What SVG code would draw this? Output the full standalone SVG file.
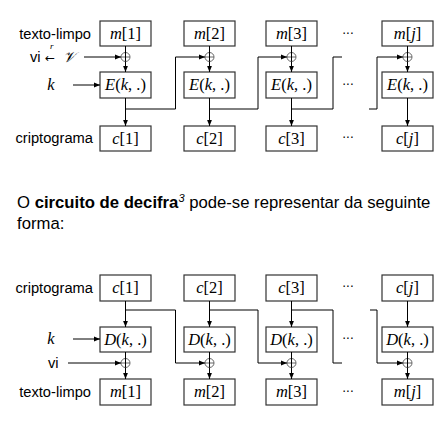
<svg xmlns="http://www.w3.org/2000/svg" width="441" height="422" viewBox="0 0 441 422">
<defs>
<marker id="ah" viewBox="0 0 6 6" refX="6" refY="3" markerWidth="6" markerHeight="6" markerUnits="userSpaceOnUse" orient="auto">
<path d="M0,0.6 L6,3 L0,5.4 Z" fill="#000"/>
</marker>
<style>
.box{fill:#fff;stroke:#333;stroke-width:1.2}
.ln{fill:none;stroke:#000;stroke-width:1}
.ar{fill:none;stroke:#000;stroke-width:1;marker-end:url(#ah)}
.xor{fill:none;stroke:#666;stroke-width:1}
.lab{font-family:"Liberation Sans",Arial,sans-serif;font-size:14.7px;fill:#000}
.mt{font-family:"Liberation Serif","Times New Roman",serif;font-size:16.5px;fill:#000;text-anchor:middle}
.it{font-style:italic}
.dots{font-family:"DejaVu Sans",sans-serif;font-size:12px;fill:#000;text-anchor:middle}
.par{font-family:"Liberation Sans",Arial,sans-serif;font-size:16.7px;fill:#000}
</style>
</defs>

<!-- ===== Top diagram: encryption ===== -->
<g id="labels-top">
<text class="lab" x="91" y="39" text-anchor="end">texto-limpo</text>
<text class="lab" x="30" y="62">vi</text>
<text x="45" y="62" font-family="DejaVu Sans,sans-serif" font-size="12px">←</text>
<text x="50" y="49" font-family="Liberation Serif,serif" font-style="italic" font-size="9px">r</text>
<text x="63" y="62" font-family="DejaVu Serif,serif" font-style="italic" font-size="15px">𝒱</text>
<text x="51" y="90" font-family="Liberation Serif,serif" font-style="italic" font-size="16.5px" text-anchor="middle">k</text>
<text class="lab" x="93" y="143" text-anchor="end">criptograma</text>
</g>

<g id="m1"><rect class="box" x="100" y="21" width="51" height="25"/><text class="mt" x="125.5" y="39"><tspan class="it">m</tspan>[1]</text></g>
<g id="m2"><rect class="box" x="184" y="21" width="51" height="25"/><text class="mt" x="209.5" y="39"><tspan class="it">m</tspan>[2]</text></g>
<g id="m3"><rect class="box" x="266" y="21" width="51" height="25"/><text class="mt" x="291.5" y="39"><tspan class="it">m</tspan>[3]</text></g>
<g id="mj"><rect class="box" x="382" y="21" width="51" height="25"/><text class="mt" x="407.5" y="39"><tspan class="it">m</tspan>[<tspan class="it">j</tspan>]</text></g>

<g id="E1"><rect class="box" x="100" y="72" width="51" height="26"/><text class="mt" x="125.5" y="90"><tspan class="it">E</tspan>(<tspan class="it">k</tspan>, .)</text></g>
<g id="E2"><rect class="box" x="184" y="72" width="51" height="26"/><text class="mt" x="209.5" y="90"><tspan class="it">E</tspan>(<tspan class="it">k</tspan>, .)</text></g>
<g id="E3"><rect class="box" x="266" y="72" width="51" height="26"/><text class="mt" x="291.5" y="90"><tspan class="it">E</tspan>(<tspan class="it">k</tspan>, .)</text></g>
<g id="Ej"><rect class="box" x="382" y="72" width="51" height="26"/><text class="mt" x="407.5" y="90"><tspan class="it">E</tspan>(<tspan class="it">k</tspan>, .)</text></g>

<g id="c1"><rect class="box" x="100" y="126" width="51" height="25"/><text class="mt" x="125.5" y="144"><tspan class="it">c</tspan>[1]</text></g>
<g id="c2"><rect class="box" x="184" y="126" width="51" height="25"/><text class="mt" x="209.5" y="144"><tspan class="it">c</tspan>[2]</text></g>
<g id="c3"><rect class="box" x="266" y="126" width="51" height="25"/><text class="mt" x="291.5" y="144"><tspan class="it">c</tspan>[3]</text></g>
<g id="cj"><rect class="box" x="382" y="126" width="51" height="25"/><text class="mt" x="407.5" y="144"><tspan class="it">c</tspan>[<tspan class="it">j</tspan>]</text></g>

<g id="dots-top">
<text class="dots" x="348" y="38">···</text>
<text class="dots" x="348" y="89">···</text>
<text class="dots" x="348" y="142">···</text>
</g>

<g id="xor-top">
<circle class="xor" cx="125.5" cy="57" r="4.5"/><path class="xor" d="M121,57H130"/>
<circle class="xor" cx="209.5" cy="57" r="4.5"/><path class="xor" d="M205,57H214"/>
<circle class="xor" cx="291.5" cy="57" r="4.5"/><path class="xor" d="M287,57H296"/>
<circle class="xor" cx="407.5" cy="57" r="4.5"/><path class="xor" d="M403,57H412"/>
</g>

<g id="connectors-top">
<path class="ln" d="M125.5,46V61.5"/><path class="ar" d="M125.5,61.5V72"/>
<path class="ln" d="M209.5,46V61.5"/><path class="ar" d="M209.5,61.5V72"/>
<path class="ln" d="M291.5,46V61.5"/><path class="ar" d="M291.5,61.5V72"/>
<path class="ln" d="M407.5,46V61.5"/><path class="ar" d="M407.5,61.5V72"/>
<path class="ar" d="M125.5,98V126"/>
<path class="ar" d="M209.5,98V126"/>
<path class="ar" d="M291.5,98V126"/>
<path class="ar" d="M407.5,98V126"/>
<path class="ar" d="M84,57H121"/>
<path class="ar" d="M73,85H100"/>
<path class="ar" d="M125.5,109H175.5V57H205"/>
<path class="ar" d="M209.5,109H258V57H287"/>
<path class="ln" d="M291.5,109H333V57H342"/>
<path class="ar" d="M369,109H377V57H403"/>
</g>

<!-- ===== Paragraph ===== -->
<text class="par" x="17" y="208">O <tspan font-weight="bold">circuito de decifra</tspan><tspan font-style="italic" font-size="11px" dy="-6">3</tspan><tspan dy="6"> pode-se representar da seguinte</tspan></text>
<text class="par" x="17" y="229">forma:</text>

<!-- ===== Bottom diagram: decryption ===== -->
<g id="labels-bottom">
<text class="lab" x="93" y="293" text-anchor="end">criptograma</text>
<text x="51" y="344" font-family="Liberation Serif,serif" font-style="italic" font-size="16.5px" text-anchor="middle">k</text>
<text class="lab" x="48" y="368">vi</text>
<text class="lab" x="91" y="397" text-anchor="end">texto-limpo</text>
</g>

<g id="bc1"><rect class="box" x="100" y="275" width="51" height="26"/><text class="mt" x="125.5" y="293"><tspan class="it">c</tspan>[1]</text></g>
<g id="bc2"><rect class="box" x="184" y="275" width="51" height="26"/><text class="mt" x="209.5" y="293"><tspan class="it">c</tspan>[2]</text></g>
<g id="bc3"><rect class="box" x="266" y="275" width="51" height="26"/><text class="mt" x="291.5" y="293"><tspan class="it">c</tspan>[3]</text></g>
<g id="bcj"><rect class="box" x="382" y="275" width="51" height="26"/><text class="mt" x="407.5" y="293"><tspan class="it">c</tspan>[<tspan class="it">j</tspan>]</text></g>

<g id="D1"><rect class="box" x="100" y="327" width="51" height="25"/><text class="mt" x="125.5" y="345"><tspan class="it">D</tspan>(<tspan class="it">k</tspan>, .)</text></g>
<g id="D2"><rect class="box" x="184" y="327" width="51" height="25"/><text class="mt" x="209.5" y="345"><tspan class="it">D</tspan>(<tspan class="it">k</tspan>, .)</text></g>
<g id="D3"><rect class="box" x="266" y="327" width="51" height="25"/><text class="mt" x="291.5" y="345"><tspan class="it">D</tspan>(<tspan class="it">k</tspan>, .)</text></g>
<g id="Dj"><rect class="box" x="382" y="327" width="51" height="25"/><text class="mt" x="407.5" y="345"><tspan class="it">D</tspan>(<tspan class="it">k</tspan>, .)</text></g>

<g id="bm1"><rect class="box" x="100" y="379" width="51" height="26"/><text class="mt" x="125.5" y="397"><tspan class="it">m</tspan>[1]</text></g>
<g id="bm2"><rect class="box" x="184" y="379" width="51" height="26"/><text class="mt" x="209.5" y="397"><tspan class="it">m</tspan>[2]</text></g>
<g id="bm3"><rect class="box" x="266" y="379" width="51" height="26"/><text class="mt" x="291.5" y="397"><tspan class="it">m</tspan>[3]</text></g>
<g id="bmj"><rect class="box" x="382" y="379" width="51" height="26"/><text class="mt" x="407.5" y="397"><tspan class="it">m</tspan>[<tspan class="it">j</tspan>]</text></g>

<g id="dots-bottom">
<text class="dots" x="348" y="291">···</text>
<text class="dots" x="348" y="343">···</text>
<text class="dots" x="348" y="396">···</text>
</g>

<g id="xor-bottom">
<circle class="xor" cx="125.5" cy="363" r="4.5"/><path class="xor" d="M121,363H130"/>
<circle class="xor" cx="209.5" cy="363" r="4.5"/><path class="xor" d="M205,363H214"/>
<circle class="xor" cx="291.5" cy="363" r="4.5"/><path class="xor" d="M287,363H296"/>
<circle class="xor" cx="407.5" cy="363" r="4.5"/><path class="xor" d="M403,363H412"/>
</g>

<g id="connectors-bottom">
<path class="ar" d="M125.5,301V327"/>
<path class="ar" d="M209.5,301V327"/>
<path class="ar" d="M291.5,301V327"/>
<path class="ar" d="M407.5,301V327"/>
<path class="ln" d="M125.5,352V367.5"/><path class="ar" d="M125.5,367.5V379"/>
<path class="ln" d="M209.5,352V367.5"/><path class="ar" d="M209.5,367.5V379"/>
<path class="ln" d="M291.5,352V367.5"/><path class="ar" d="M291.5,367.5V379"/>
<path class="ln" d="M407.5,352V367.5"/><path class="ar" d="M407.5,367.5V379"/>
<path class="ar" d="M73,339H100"/>
<path class="ar" d="M68,363H121"/>
<path class="ar" d="M125.5,310H175.5V363H205"/>
<path class="ar" d="M209.5,310H258V363H287"/>
<path class="ln" d="M291.5,310H333V363H342"/>
<path class="ar" d="M370,310H377V363H403"/>
</g>
</svg>
